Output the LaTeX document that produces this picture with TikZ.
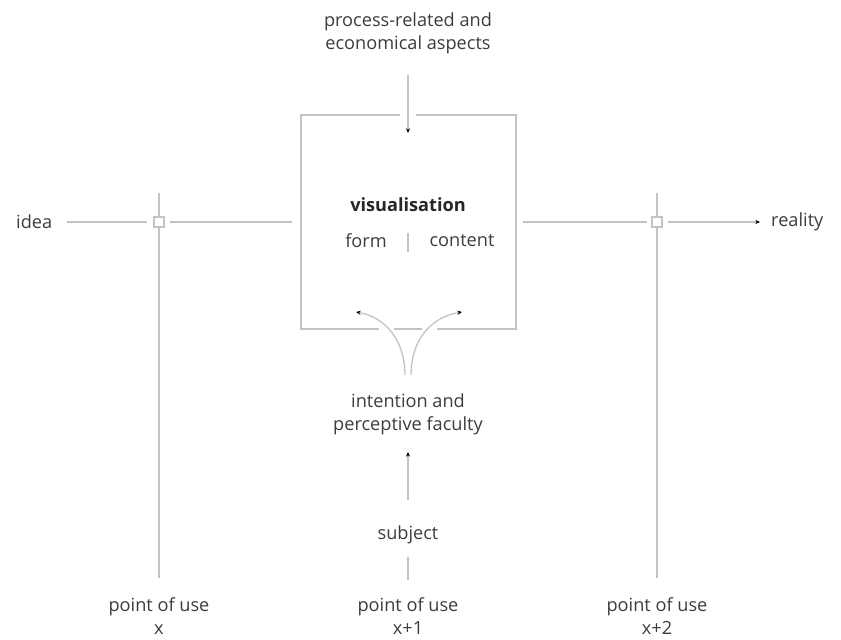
\documentclass[tikz,border=0pt]{standalone}
\usepackage{fontspec}
\setmainfont{Open Sans}
\usetikzlibrary{arrows.meta}
\definecolor{linegray}{RGB}{195,195,195}
\definecolor{txtgray}{RGB}{60,60,60}
\tikzset{
  ln/.style={draw=linegray, line width=1.1pt},
  arr/.style={ln, -{Stealth[length=4pt,width=3.5pt,black]}},
  lbl/.style={text=txtgray, font=\fontsize{15.5}{19.6}\selectfont, inner sep=0pt, align=center},
  sq/.style={ln, fill=white, minimum size=8.5pt, inner sep=0pt, rectangle}
}
\begin{document}
\begin{tikzpicture}[x=0.03cm,y=-0.03cm]
\useasboundingbox (0,0) rectangle (841,639);
% labels
\node[lbl] (proc) at (408,33) {process-related and\\economical aspects};
\node[lbl, font=\fontsize{15.5}{19.6}\selectfont\bfseries, text=black!85] (vis) at (408,205) {visualisation};
\node[lbl] (form) at (366,241) {form};
\node[lbl] (cont) at (462,241) {content};
\node[lbl] (intent) at (408,414) {intention and\\perceptive faculty};
\node[lbl] (subj) at (408,535) {subject};
\node[lbl, anchor=west] (idea) at (16,222) {idea};
\node[lbl, anchor=west] (real) at (771,222) {reality};
\node[lbl] (px) at (159,616) {point of use\\x};
\node[lbl] (px1) at (408,616) {point of use\\x+1};
\node[lbl] (px2) at (657,616) {point of use\\x+2};
% coordinates
\coordinate (tl) at (301,115); \coordinate (tr) at (516,115);
\coordinate (bl) at (301,329); \coordinate (br) at (516,329);
\coordinate (tg1) at (400,115); \coordinate (tg2) at (416,115);
\coordinate (bg1) at (379,329); \coordinate (bg2) at (394,329);
\coordinate (bg3) at (422,329); \coordinate (bg4) at (437,329);
\coordinate (topin) at (408,75); \coordinate (topend) at (408,133);
\coordinate (barT) at (408,233); \coordinate (barB) at (408,252);
\coordinate (cl) at (405,375); \coordinate (cr) at (411,375);
\coordinate (al) at (356,312); \coordinate (ar) at (462,312);
\coordinate (sa) at (408,500); \coordinate (sb) at (408,452);
\coordinate (s1) at (408,557); \coordinate (s2) at (408,580);
\coordinate (vlT) at (159,193); \coordinate (vlB) at (159,578);
\coordinate (vrT) at (657,193); \coordinate (vrB) at (657,578);
\coordinate (h1) at (67,222); \coordinate (h2) at (147,222);
\coordinate (h3) at (170,222); \coordinate (h4) at (292,222);
\coordinate (h5) at (523,222); \coordinate (h6) at (647,222);
\coordinate (h7) at (668,222); \coordinate (h8) at (760,222);
% box
\draw[ln] (tg1) -- (tl) -- (bl) -- (bg1);
\draw[ln] (tg2) -- (tr) -- (br) -- (bg4);
\draw[ln] (bg2) -- (bg3);
\draw[arr] (topin) -- (topend);
\draw[ln] (barT) -- (barB);
% curves
\draw[arr] (cl) .. controls (405,340) and (385,317) .. (al);
\draw[arr] (cr) .. controls (411,340) and (431,317) .. (ar);
% subject
\draw[arr] (sa) -- (sb);
\draw[ln] (s1) -- (s2);
% verticals
\draw[ln] (vlT) -- (vlB);
\draw[ln] (vrT) -- (vrB);
\node[sq] (sqL) at (159,222) {};
\node[sq] (sqR) at (657,222) {};
% horizontals
\draw[ln] (h1) -- (h2);
\draw[ln] (h3) -- (h4);
\draw[ln] (h5) -- (h6);
\draw[arr] (h7) -- (h8);
\end{tikzpicture}
\end{document}
